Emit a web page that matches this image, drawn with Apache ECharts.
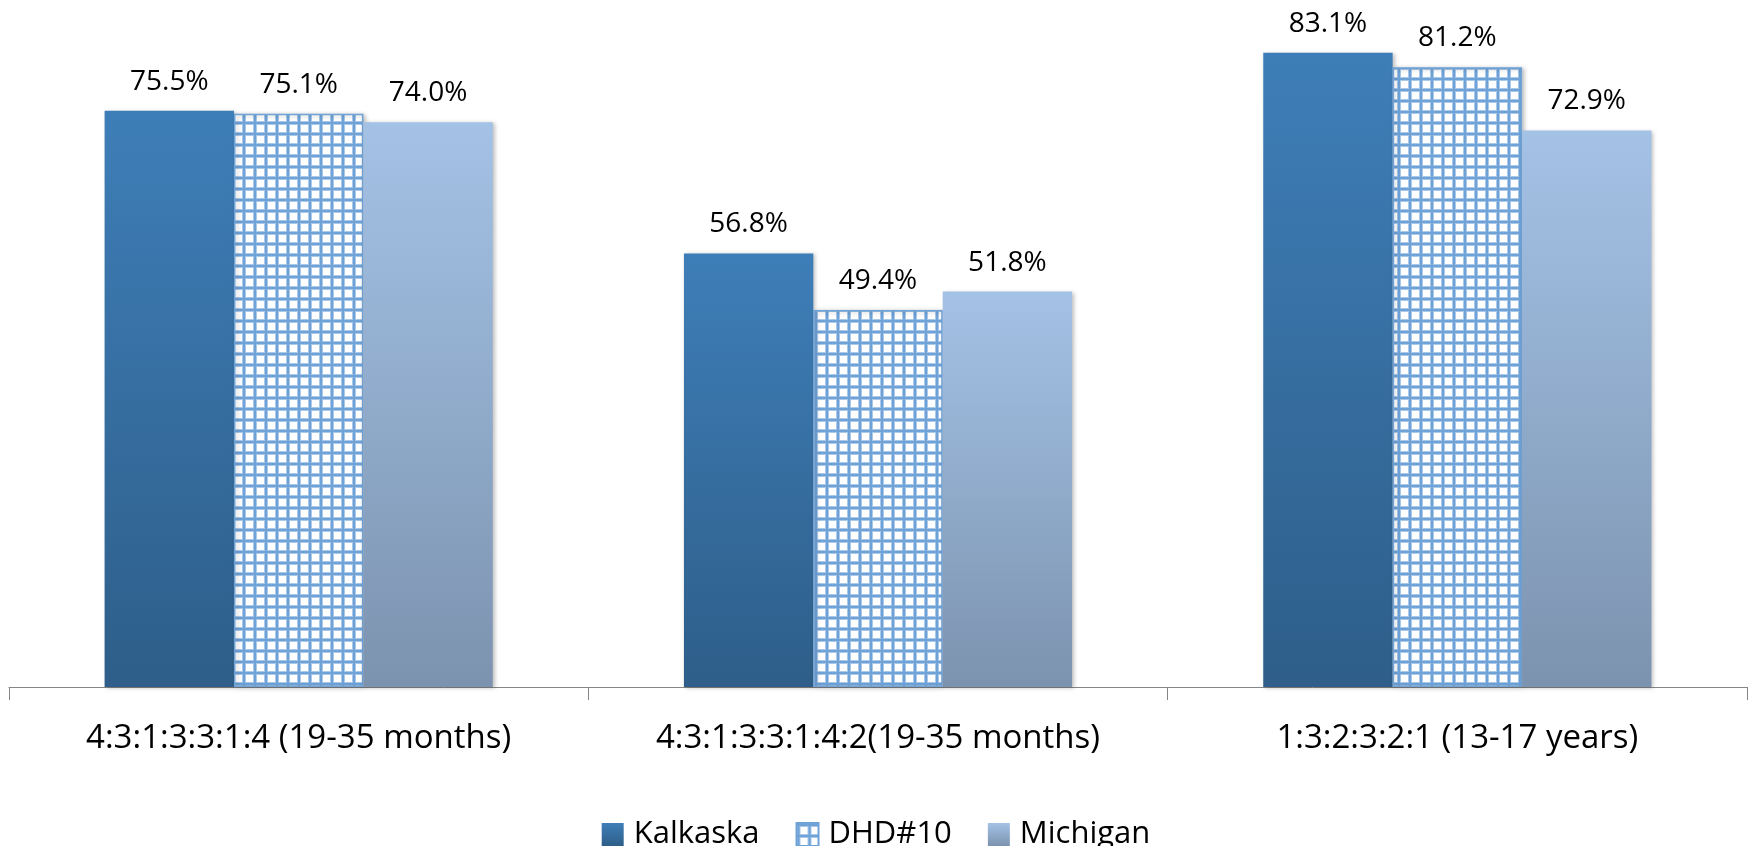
<!DOCTYPE html>
<html>
<head>
<meta charset="utf-8">
<script src="https://cdn.jsdelivr.net/npm/echarts@6/dist/echarts.min.js"></script>
<style>
  html, body { margin: 0; padding: 0; background: #fff; }
  #chart { width: 1752px; height: 846px; }
</style>
</head>
<body>
<div id="chart"></div>
<script>
// 数据
const categories = ["4:3:1:3:3:1:4 (19-35 months)", "4:3:1:3:3:1:4:2(19-35 months)", "1:3:2:3:2:1 (13-17 years)"];
const seriesNames = ["Kalkaska", "DHD#10", "Michigan"];
const kalkaska = [75.5, 56.8, 83.1];
const dhd10 = [75.1, 49.4, 81.2];
const michigan = [74.0, 51.8, 72.9];

const FONT = "'Open Sans', 'Noto Sans', sans-serif";

// 网格图案 (DHD#10)
function gridPattern() {
  const c = document.createElement("canvas");
  c.width = 11;
  c.height = 11;
  const ctx = c.getContext("2d");
  ctx.fillStyle = "#ffffff";
  ctx.fillRect(0, 0, 11, 11);
  ctx.fillStyle = "#a9c8ea";
  ctx.fillRect(0, 0, 4, 11);
  ctx.fillRect(0, 0, 11, 4);
  ctx.fillStyle = "#6fa3d8";
  ctx.fillRect(1, 0, 2, 11);
  ctx.fillRect(0, 1, 11, 2);
  return c;
}

function vGrad(top, bottom) {
  return new echarts.graphic.LinearGradient(0, 0, 0, 1, [
    { offset: 0, color: top },
    { offset: 1, color: bottom }
  ]);
}

const shadow = {
  shadowColor: "rgba(0,0,0,0.25)",
  shadowBlur: 4,
  shadowOffsetX: 2,
  shadowOffsetY: 1
};

const labelStyle = {
  show: true,
  position: "top",
  distance: 15,
  fontFamily: FONT,
  fontSize: 28,
  color: "#000",
  formatter: function (p) {
    return p.value.toFixed(1) + "%";
  }
};

const chart = echarts.init(document.getElementById("chart"));

const option = {
  animation: false,
  backgroundColor: "#fff",
  grid: {
    left: 9,
    right: 5,
    top: 0,
    bottom: 159,
    containLabel: false
  },
  legend: {
    top: 814,
    left: "center",
    itemWidth: 22,
    itemHeight: 23,
    itemGap: 36,
    icon: "rect",
    textStyle: {
      fontFamily: FONT,
      fontSize: 31,
      color: "#000",
      padding: [0, 0, 0, 5]
    },
    data: seriesNames
  },
  xAxis: {
    type: "category",
    data: categories,
    axisLine: { lineStyle: { color: "#868686", width: 1 } },
    axisTick: { show: true, length: 13, lineStyle: { color: "#868686" } },
    axisLabel: {
      margin: 35,
      fontFamily: FONT,
      fontSize: 33,
      color: "#000",
      interval: 0
    }
  },
  yAxis: {
    type: "value",
    min: 0,
    max: 90,
    show: false,
    splitLine: { show: false }
  },
  series: [
    {
      name: seriesNames[0],
      type: "bar",
      data: kalkaska,
      barGap: "0%",
      barCategoryGap: "33%",
      itemStyle: Object.assign({ color: vGrad("#3e7eb8", "#2e5e89") }, shadow),
      label: labelStyle
    },
    {
      name: seriesNames[1],
      type: "bar",
      data: dhd10,
      itemStyle: Object.assign({
        color: { image: gridPattern(), repeat: "repeat" },
        borderColor: "#6fa3d8",
        borderWidth: 1.5
      }, shadow),
      label: labelStyle
    },
    {
      name: seriesNames[2],
      type: "bar",
      data: michigan,
      itemStyle: Object.assign({ color: vGrad("#a4c2e6", "#7c93af") }, shadow),
      label: labelStyle
    }
  ]
};

chart.setOption(option);
</script>
</body>
</html>
